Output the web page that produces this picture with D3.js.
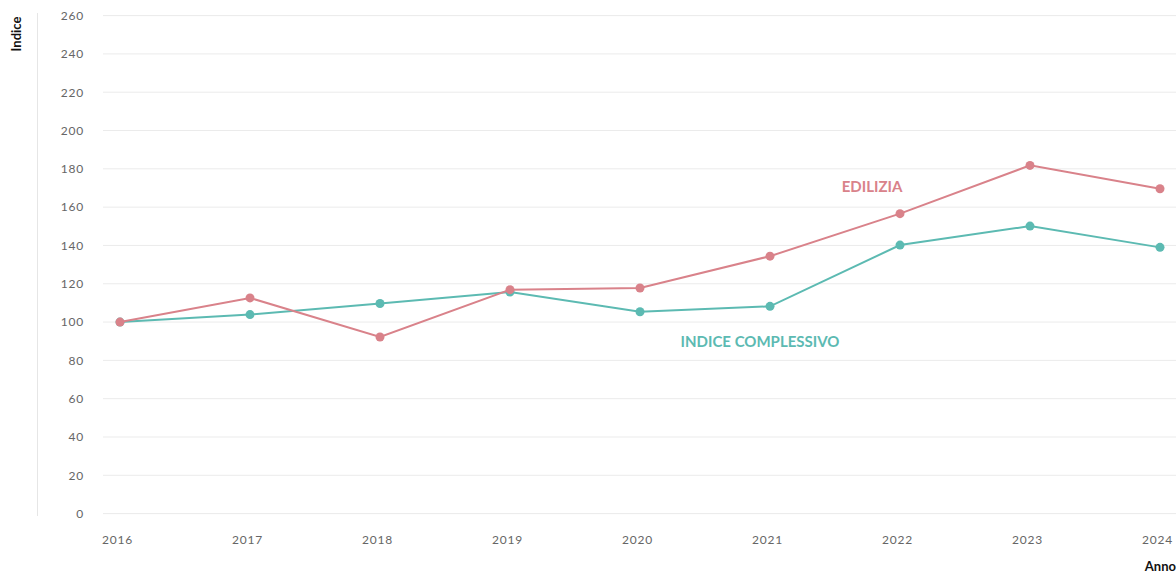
<!DOCTYPE html>
<html>
<head>
<meta charset="utf-8">
<script src="https://cdn.jsdelivr.net/npm/d3@7"></script>
<style>
  body { margin: 0; background: #fff; font-family: Lato, sans-serif; }
</style>
</head>
<body>
<div id="chart"></div>
<script>
// data
var years = ["2016","2017","2018","2019","2020","2021","2022","2023","2024"];
var edilizia = [100, 112.6, 92.2, 116.9, 117.8, 134.4, 156.6, 181.8, 169.6];
var complessivo = [100, 103.9, 109.7, 115.7, 105.4, 108.2, 140.2, 150.1, 139.0];
var yTicks = [0, 20, 40, 60, 80, 100, 120, 140, 160, 180, 200, 220, 240, 260];

var W = 1176, H = 573;

var svg = d3.select("#chart")
  .append("svg")
  .attr("width", W)
  .attr("height", H);

var x = d3.scalePoint()
  .domain(years)
  .range([120, 1160]);

var y = d3.scaleLinear()
  .domain([0, 260])
  .range([513.6, 15.6]);

// grid lines
svg.append("g")
  .selectAll("line")
  .data(yTicks)
  .enter()
  .append("line")
    .attr("x1", 103)
    .attr("x2", W)
    .attr("y1", function(d) { return y(d) })
    .attr("y2", function(d) { return y(d) })
    .style("stroke", "#ebebeb")
    .style("stroke-width", 1);

// left vertical rule
svg.append("line")
  .attr("x1", 37.5).attr("x2", 37.5)
  .attr("y1", 13).attr("y2", 516)
  .style("stroke", "#e6e6e6");

// y axis
var yAxis = svg.append("g")
  .attr("transform", "translate(84,0)")
  .call(d3.axisLeft(y).tickValues(yTicks).tickSize(0).tickPadding(0));
yAxis.select(".domain").remove();
yAxis.selectAll("text")
  .style("font-family", "Lato, sans-serif")
  .style("font-size", "12px")
  .style("fill", "#666")
  .style("letter-spacing", "0.8px");

// x axis
var xAxis = svg.append("g")
  .attr("transform", "translate(-3,535)")
  .call(d3.axisBottom(x).tickSize(0).tickPadding(0));
xAxis.select(".domain").remove();
xAxis.selectAll("text")
  .style("font-family", "Lato, sans-serif")
  .style("font-size", "12px")
  .style("fill", "#666")
  .style("letter-spacing", "0.8px");

// axis titles
svg.append("text")
  .attr("transform", "translate(21,34) rotate(-90)")
  .attr("text-anchor", "middle")
  .style("font-size", "13px")
  .style("font-weight", "bold")
  .style("fill", "#111")
  .text("Indice");

svg.append("text")
  .attr("x", 1176)
  .attr("y", 571)
  .attr("text-anchor", "end")
  .style("font-size", "13px")
  .style("font-weight", "bold")
  .style("fill", "#111")
  .text("Anno");

var series = [
  {name: "INDICE COMPLESSIVO", values: complessivo, color: "#5cbab2", lx: "2021", lv: 89, dx: -10},
  {name: "EDILIZIA", values: edilizia, color: "#d9828a", lx: "2022", lv: 170, dx: -28}
];

var line = d3.line()
  .x(function(d, i) { return x(years[i]) })
  .y(function(d) { return y(d) });

series.forEach(function(s) {
  svg.append("path")
    .datum(s.values)
    .attr("d", line)
    .style("fill", "none")
    .style("stroke", s.color)
    .style("stroke-width", 2);

  svg.append("g")
    .selectAll("circle")
    .data(s.values)
    .enter()
    .append("circle")
      .attr("cx", function(d, i) { return x(years[i]) })
      .attr("cy", function(d) { return y(d) })
      .attr("r", 4.5)
      .style("fill", s.color);

  svg.append("text")
    .attr("x", x(s.lx) + s.dx)
    .attr("y", y(s.lv))
    .attr("text-anchor", "middle")
    .attr("dominant-baseline", "middle")
    .style("font-size", "15px")
    .style("font-weight", "bold")
    .style("fill", s.color)
    .text(s.name);
});
</script>
</body>
</html>
